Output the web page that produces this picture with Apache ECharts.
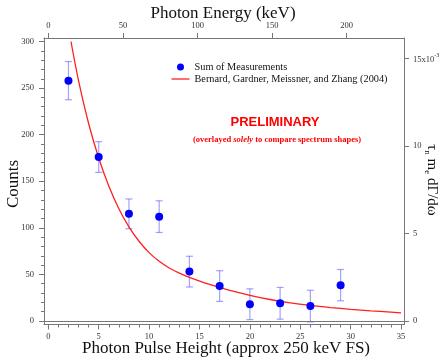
<!DOCTYPE html>
<html>
<head>
<meta charset="utf-8">
<script src="https://cdn.jsdelivr.net/npm/echarts@6/dist/echarts.min.js"></script>
<style>
  html, body { margin: 0; padding: 0; background: #fff; }
  #chart { width: 446px; height: 357px; }
</style>
</head>
<body>
<div id="chart"></div>
<script>
// measured points (pulse height channel, counts, +/- error)
const pulseHeight = [2, 5, 8, 11, 14, 17, 20, 23, 26, 29];
const counts = [258, 176, 115, 112, 53, 37.5, 18, 19, 16, 38.5];
const countErr = [20.5, 16.5, 16, 17, 16.5, 16.5, 16.5, 17, 17, 16.8];

// theory curve, right axis in units of 1e-3
const theoryX = [2.25, 3, 4, 5, 6, 7, 8, 9, 10, 11, 12, 13, 14, 16, 18, 20, 22, 24, 26, 28, 30, 32, 35];
const theoryY = [15.98, 13.74, 11.29, 9.32, 7.72, 6.42, 5.38, 4.56, 3.91, 3.41, 3.03, 2.74, 2.5,
  2.09, 1.75, 1.47, 1.23, 1.04, 0.89, 0.77, 0.67, 0.58, 0.47];

const bottomTicks = [0, 5, 10, 15, 20, 25, 30, 35];
const bottomMinor = Array.from({ length: 36 }, (_, i) => i);
const topTicks = [0, 50, 100, 150, 200];
const leftTicks = [0, 50, 100, 150, 200, 250, 300];
const leftMinor = Array.from({ length: 31 }, (_, i) => i * 10);
const rightTicks = [0, 5, 10, 15];

const serif = '"Liberation Serif", "DejaVu Serif", serif';
const axisGray = '#777';
const labelColor = '#333';

const chart = echarts.init(document.getElementById('chart'), null, { renderer: 'canvas' });

const tickLabel = { fontFamily: serif, fontSize: 8.5, color: labelColor };
const line = { show: true, onZero: false, lineStyle: { color: axisGray } };
const noLine = { show: false, onZero: false };

const option = {
  animation: false,
  grid: { left: 44, right: 42, top: 38, bottom: 32.5 },
  legend: {
    orient: 'vertical',
    left: 166.5,
    top: 57,
    itemWidth: 18,
    itemHeight: 7,
    itemGap: 2,
    textStyle: { fontFamily: serif, fontSize: 10.3, color: '#111' },
    data: [
      { name: 'Sum of Measurements', icon: 'circle' },
      { name: 'Bernard, Gardner, Meissner, and Zhang (2004)', icon: 'path://M0,0 L18,0 L18,1.3 L0,1.3 Z' }
    ]
  },
  xAxis: [
    {
      type: 'value', position: 'bottom', min: -0.427, max: 35.29,
      axisLine: line,
      axisTick: { show: true, length: 5, customValues: bottomTicks, lineStyle: { color: axisGray } },
      axisLabel: { ...tickLabel, margin: 8, customValues: bottomTicks },
      splitLine: { show: false }
    },
    {
      type: 'value', position: 'bottom', min: -0.427, max: 35.29,
      axisLine: noLine,
      axisTick: { show: true, length: 3, customValues: bottomMinor, lineStyle: { color: axisGray } },
      axisLabel: { show: false },
      splitLine: { show: false }
    },
    {
      type: 'value', position: 'top', min: -2.88, max: 238.4,
      axisLine: line,
      axisTick: { show: true, length: 5, customValues: topTicks, lineStyle: { color: axisGray } },
      axisLabel: { ...tickLabel, margin: 8, customValues: topTicks },
      splitLine: { show: false }
    }
  ],
  yAxis: [
    {
      type: 'value', position: 'left', min: -3.76, max: 303.76,
      axisLine: line,
      axisTick: { show: true, length: 5, customValues: leftTicks, lineStyle: { color: axisGray } },
      axisLabel: { ...tickLabel, margin: 10, customValues: leftTicks },
      splitLine: { show: false }
    },
    {
      type: 'value', position: 'left', min: -3.76, max: 303.76,
      axisLine: noLine,
      axisTick: { show: true, length: 3, customValues: leftMinor, lineStyle: { color: axisGray } },
      axisLabel: { show: false },
      splitLine: { show: false }
    },
    {
      type: 'value', position: 'right', min: -0.2, max: 16.18,
      axisLine: line,
      axisTick: { show: true, length: 5, customValues: rightTicks, lineStyle: { color: axisGray } },
      axisLabel: {
        ...tickLabel, margin: 9, customValues: rightTicks,
        formatter: v => (v === 15 ? '{a|15x10}{s|-3}' : String(v)),
        rich: {
          a: { fontFamily: serif, fontSize: 8.5, color: labelColor, lineHeight: 12, verticalAlign: 'bottom' },
          s: { fontFamily: serif, fontSize: 6, color: labelColor, lineHeight: 12, verticalAlign: 'top' }
        }
      },
      splitLine: { show: false }
    }
  ],
  series: [
    {
      name: 'errors',
      type: 'custom',
      xAxisIndex: 0, yAxisIndex: 0,
      silent: true,
      data: pulseHeight.map((x, i) => [x, counts[i] - countErr[i], counts[i] + countErr[i]]),
      renderItem: (params, api) => {
        const lo = api.coord([api.value(0), api.value(1)]);
        const hi = api.coord([api.value(0), api.value(2)]);
        const cap = 3.5;
        const style = { stroke: 'rgba(70,70,255,0.5)', lineWidth: 1.2 };
        return {
          type: 'group',
          children: [
            { type: 'line', shape: { x1: lo[0], y1: lo[1], x2: hi[0], y2: hi[1] }, style },
            { type: 'line', shape: { x1: lo[0] - cap, y1: lo[1], x2: lo[0] + cap, y2: lo[1] }, style },
            { type: 'line', shape: { x1: hi[0] - cap, y1: hi[1], x2: hi[0] + cap, y2: hi[1] }, style }
          ]
        };
      },
      z: 2
    },
    {
      name: 'Bernard, Gardner, Meissner, and Zhang (2004)',
      type: 'line',
      xAxisIndex: 0, yAxisIndex: 2,
      data: theoryX.map((x, i) => [x, theoryY[i]]),
      smooth: 0.3,
      symbol: 'none',
      lineStyle: { color: '#ff2020', width: 1.3 },
      itemStyle: { color: '#ff2020' },
      z: 3
    },
    {
      name: 'Sum of Measurements',
      type: 'scatter',
      xAxisIndex: 0, yAxisIndex: 0,
      data: pulseHeight.map((x, i) => [x, counts[i]]),
      symbol: 'circle',
      symbolSize: 8,
      itemStyle: { color: '#0000ff', opacity: 1 },
      markLine: {
        silent: true,
        symbol: 'none',
        label: { show: false },
        lineStyle: { color: axisGray, type: 'solid', width: 1 },
        data: [{ yAxis: 0 }]
      },
      z: 4
    }
  ],
  graphic: [
    {
      type: 'text', x: 223, y: 14,
      style: { text: 'Photon Energy (keV)', font: '17px ' + serif, fill: '#111', align: 'center', verticalAlign: 'middle' }
    },
    {
      type: 'text', x: 226, y: 349,
      style: { text: 'Photon Pulse Height (approx 250 keV FS)', font: '17px ' + serif, fill: '#111', align: 'center', verticalAlign: 'middle' }
    },
    {
      type: 'text', x: 14, y: 184, rotation: Math.PI / 2,
      style: { text: 'Counts', font: '17px ' + serif, fill: '#111', align: 'center', verticalAlign: 'middle' }
    },
    {
      type: 'text', x: 431, y: 180, rotation: -Math.PI / 2,
      style: {
        text: '{a|τ}{s|n}{a| m}{s|e}{a| dΓ/dω}',
        align: 'center', verticalAlign: 'middle',
        rich: {
          a: { fontFamily: serif, fontSize: 15, fill: '#111', lineHeight: 17, verticalAlign: 'top' },
          s: { fontFamily: serif, fontSize: 9, fill: '#111', lineHeight: 17, verticalAlign: 'bottom' }
        }
      }
    },
    {
      type: 'text', x: 275, y: 122,
      style: { text: 'PRELIMINARY', font: 'bold 13px "Liberation Sans", Arial, sans-serif', fill: '#ff0000', align: 'center', verticalAlign: 'middle' }
    },
    {
      type: 'text', x: 277, y: 139.5,
      style: {
        text: '{b|(overlayed }{i|solely}{b| to compare spectrum shapes)}',
        align: 'center', verticalAlign: 'middle',
        rich: {
          b: { fontFamily: serif, fontWeight: 'bold', fontSize: 8.5, fill: '#ff0000' },
          i: { fontFamily: serif, fontWeight: 'bold', fontStyle: 'italic', fontSize: 8.5, fill: '#ff0000' }
        }
      }
    }
  ]
};

chart.setOption(option);
</script>
</body>
</html>
